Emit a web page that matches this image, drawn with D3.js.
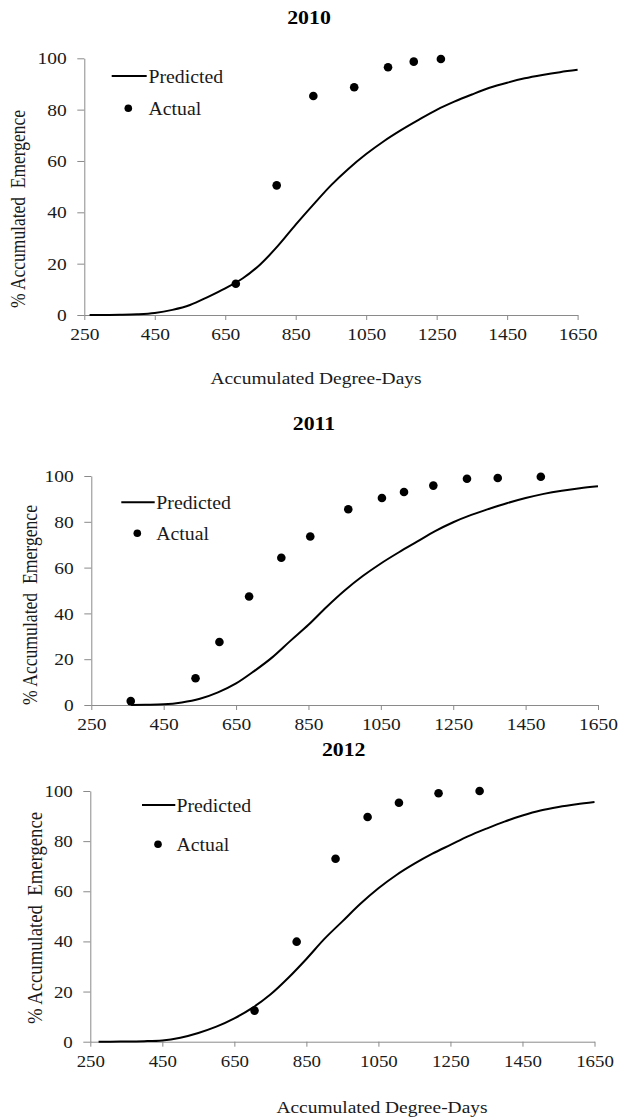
<!DOCTYPE html>
<html>
<head>
<meta charset="utf-8">
<script src="https://cdn.jsdelivr.net/npm/d3@7"></script>
<style>
  html, body { margin: 0; padding: 0; background: #fff; }
  svg { display: block; }
  svg text { font-family: "Liberation Serif", "Times New Roman", Times, "DejaVu Serif", serif !important; fill: #1a1a1a; }
</style>
</head>
<body>
<script>
// ---------------- DATA ----------------
const years = ["2010", "2011", "2012"];
const xTicks = [250, 450, 650, 850, 1050, 1250, 1450, 1650];
const yTicks = [0, 20, 40, 60, 80, 100];
const legendLabels = ["Predicted", "Actual"];
const xTitle = "Accumulated Degree-Days";
const yTitle = "% Accumulated  Emergence";

// Actual (observed) emergence
const actualDD2010  = [680, 796, 900, 1016, 1112, 1185, 1262];
const actualPct2010 = [12.2, 50.5, 85.3, 88.7, 96.5, 98.7, 99.7];

const actualDD2011  = [359, 538, 604, 686, 775, 855, 960, 1053, 1114, 1195, 1288, 1373, 1492];
const actualPct2011 = [1.7, 11.7, 27.5, 47.4, 64.3, 73.6, 85.5, 90.4, 93.0, 95.8, 98.8, 99.1, 99.7];

const actualDD2012  = [706, 823, 931, 1020, 1107, 1217, 1331];
const actualPct2012 = [12.4, 39.9, 73.0, 89.6, 95.3, 99.1, 100];

// Predicted emergence curve (read at intervals from the picture)
const predDD2010  = [265, 300, 350, 400, 450, 500, 550, 600, 650, 700, 750, 800, 850, 900, 950, 1000, 1050, 1100, 1150, 1200, 1250, 1300, 1350, 1400, 1450, 1500, 1550, 1600, 1650];
const predPct2010 = [0, 0, 0.1, 0.3, 0.8, 2.0, 3.9, 7.0, 10.4, 14.3, 19.8, 27.0, 35.2, 43.0, 50.5, 57.0, 62.7, 67.7, 72.1, 76.1, 79.9, 83.1, 85.9, 88.5, 90.5, 92.2, 93.5, 94.6, 95.5];

const predDD2011  = [360, 400, 450, 500, 550, 600, 650, 700, 750, 800, 850, 900, 950, 1000, 1050, 1100, 1150, 1200, 1250, 1300, 1350, 1400, 1450, 1500, 1550, 1600, 1650];
const predPct2011 = [0, 0.1, 0.3, 1.1, 2.7, 5.5, 9.4, 14.8, 20.8, 28.0, 35.0, 42.8, 50.0, 56.3, 61.8, 66.7, 71.3, 75.9, 79.8, 83.0, 85.7, 88.2, 90.4, 92.2, 93.6, 94.7, 95.5];

const predDD2012  = [273, 300, 350, 400, 450, 500, 550, 600, 650, 700, 750, 800, 850, 900, 950, 1000, 1050, 1100, 1150, 1200, 1250, 1300, 1350, 1400, 1450, 1500, 1550, 1600, 1650];
const predPct2012 = [0, 0, 0.1, 0.2, 0.5, 1.6, 3.5, 6.0, 9.3, 13.5, 18.8, 25.5, 33.0, 41.0, 48.0, 55.0, 61.2, 66.5, 71.0, 75.0, 78.5, 82.0, 85.0, 87.8, 90.2, 92.2, 93.6, 94.7, 95.6];

const actualDD  = [actualDD2010, actualDD2011, actualDD2012];
const actualPct = [actualPct2010, actualPct2011, actualPct2012];
const predDD    = [predDD2010, predDD2011, predDD2012];
const predPct   = [predPct2010, predPct2011, predPct2012];

// ---------------- LAYOUT ----------------
const layout = [
  { x0: 84.3, x1: 577.6, yB: 315,    yT: 58.3,
    title: [309, 23.5], xlab: [316, 384], ylab: [24.5, 209, 198],
    leg: { lx0: 111.7, lx1: 146.7, ly: 76, tx: 148.5, tb: 82.5, dx: 128.3, dy: 108.3, tb2: 114.5 } },
  { x0: 91.3, x1: 598,   yB: 705,    yT: 476,
    title: [314, 430], xlab: null, ylab: [36.5, 605, 200],
    leg: { lx0: 121.3, lx1: 154.7, ly: 502.3, tx: 156.3, tb: 508.8, dx: 137.3, dy: 533.3, tb2: 540 } },
  { x0: 90.3, x1: 594.5, yB: 1041.7, yT: 791,
    title: [343.7, 755.5], xlab: [382, 1113], ylab: [41.5, 918, 212],
    leg: { lx0: 142, lx1: 175.3, ly: 805, tx: 176.5, tb: 811.5, dx: 158, dy: 844.3, tb2: 850.5 } }
];

const W = 619, H = 1120;
const FONT = "'Liberation Serif', 'Times New Roman', Times, 'DejaVu Serif', serif";
const svg = d3.select("body").append("svg").attr("width", W).attr("height", H)
  .attr("font-family", FONT);

const SX = 1.18;           // horizontal stretch of the reference's text
const axisColor = "#8a8a8a";

years.forEach((yr, i) => {
  const L = layout[i];
  const x = d3.scaleLinear().domain([250, 1650]).range([L.x0, L.x1]);
  const y = d3.scaleLinear().domain([0, 100]).range([L.yB, L.yT]);
  const g = svg.append("g");

  // Title
  g.append("text")
    .attr("transform", `translate(${L.title[0]},${L.title[1]}) scale(${SX},1)`)
    .attr("text-anchor", "middle")
    .style("font-size", "18.5px").style("font-weight", "bold").style("fill", "#000")
    .text(yr);

  // X axis
  const xAxis = g.append("g")
    .attr("transform", `translate(0,${L.yB})`)
    .call(d3.axisBottom(x).tickValues(xTicks).tickSize(5).tickSizeOuter(0).tickFormat(d3.format("d")));
  xAxis.attr("font-family", FONT);
  xAxis.select(".domain").attr("stroke", axisColor);
  xAxis.selectAll(".tick line").attr("stroke", axisColor);
  xAxis.selectAll(".tick text")
    .attr("y", 0).attr("dy", 0)
    .attr("transform", `translate(0,25) scale(${SX},1)`)
    .style("font-size", i === 2 ? "16px" : "16.5px")
    .attr("fill", "#1a1a1a");

  // Y axis
  const yAxis = g.append("g")
    .attr("transform", `translate(${L.x0},0)`)
    .call(d3.axisLeft(y).tickValues(yTicks).tickSize(7).tickSizeOuter(0));
  yAxis.attr("font-family", FONT);
  yAxis.select(".domain").attr("stroke", axisColor);
  yAxis.selectAll(".tick line").attr("stroke", axisColor);
  yAxis.selectAll(".tick text")
    .attr("x", -17.5 / SX).attr("dy", "0.34em")
    .attr("transform", `scale(${SX},1)`)
    .style("font-size", i === 2 ? "16px" : "16.5px")
    .attr("fill", "#1a1a1a");

  // Axis titles
  if (L.xlab) {
    g.append("text")
      .attr("transform", `translate(${L.xlab[0]},${L.xlab[1]}) scale(${SX},1)`)
      .attr("text-anchor", "middle")
      .style("font-size", "16.5px")
      .text(xTitle);
  }
  g.append("text")
    .attr("transform", `translate(${L.ylab[0]},${L.ylab[1]}) rotate(-90) scale(1,${SX})`)
    .attr("text-anchor", "middle")
    .attr("textLength", L.ylab[2]).attr("lengthAdjust", "spacingAndGlyphs")
    .style("font-size", "17px").style("white-space", "pre")
    .text(yTitle);

  // Predicted curve
  const pts = predDD[i].map((d, k) => [d, predPct[i][k]]);
  g.append("path")
    .datum(pts)
    .attr("fill", "none").attr("stroke", "#000").attr("stroke-width", 2)
    .attr("d", d3.line().x(d => x(d[0])).y(d => y(d[1])).curve(d3.curveMonotoneX));

  // Actual points
  const obs = actualDD[i].map((d, k) => [d, actualPct[i][k]]);
  g.selectAll("circle.obs").data(obs).enter().append("circle")
    .attr("class", "obs")
    .attr("cx", d => x(d[0])).attr("cy", d => y(d[1])).attr("r", 4.3)
    .attr("fill", "#000");

  // Legend
  const lg = L.leg;
  g.append("line").attr("x1", lg.lx0).attr("x2", lg.lx1).attr("y1", lg.ly).attr("y2", lg.ly)
    .attr("stroke", "#000").attr("stroke-width", 2);
  g.append("text")
    .attr("transform", `translate(${lg.tx},${lg.tb}) scale(1.1,1)`)
    .style("font-size", "18px").text(legendLabels[0]);
  g.append("circle").attr("cx", lg.dx).attr("cy", lg.dy).attr("r", 3.8).attr("fill", "#000");
  g.append("text")
    .attr("transform", `translate(${lg.tx},${lg.tb2}) scale(1.1,1)`)
    .style("font-size", "18px").text(legendLabels[1]);
});
</script>
</body>
</html>
